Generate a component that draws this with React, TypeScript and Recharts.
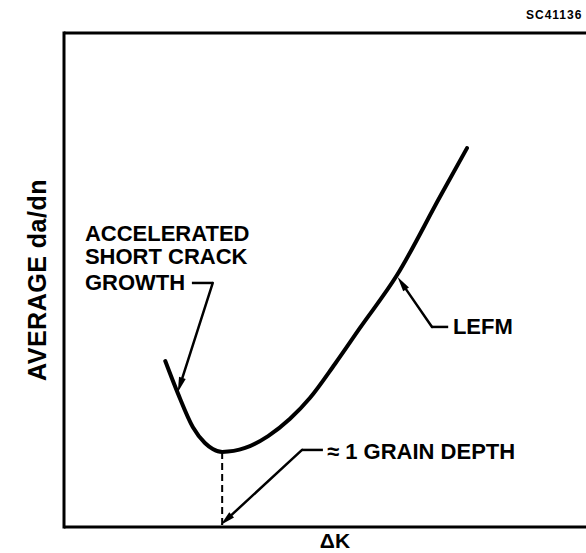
import { LineChart, Line, XAxis, YAxis, ReferenceLine, ReferenceDot } from "recharts";

// curve: average da/dn vs ΔK (arbitrary units, 0-100 both axes)
const deltaK = [19.4, 21.8, 24.7, 27.0, 28.5, 30.3, 34.7, 39.1, 43.3, 47.1, 51.9, 56.7, 63.8, 72.0, 77.2];
const dadn = [33.6, 27.1, 20.2, 17.0, 15.8, 15.2, 16.0, 18.4, 21.9, 26.1, 33.0, 40.3, 51.0, 66.8, 76.7];

const curveData = deltaK.map((k, i) => ({ dk: k, rate: dadn[i] }));

// grain depth marker (ΔK at the minimum)
const grainK = 30.3;
const grainRate = 15.2;

// leader lines: [start, end], arrow at end when it has one
const growthStub = [{ x: 24.5, y: 49.4 }, { x: 28.5, y: 49.4 }];
const growthArrow = [{ x: 28.5, y: 49.4 }, { x: 21.8, y: 27.3 }];
const grainStub = [{ x: 49.6, y: 15.6 }, { x: 45.6, y: 15.6 }];
const grainArrow = [{ x: 45.6, y: 15.6 }, { x: 30.0, y: 0.4 }];
const lefmStub = [{ x: 73.6, y: 40.5 }, { x: 70.5, y: 40.5 }];
const lefmArrow = [{ x: 70.5, y: 40.5 }, { x: 63.9, y: 50.6 }];

const labels = [
  { text: "ACCELERATED", x: 4.0, y: 59.5 },
  { text: "SHORT CRACK", x: 4.0, y: 54.7 },
  { text: "GROWTH", x: 4.0, y: 49.4 },
  { text: "≈ 1 GRAIN DEPTH", x: 50.4, y: 15.2 },
  { text: "LEFM", x: 74.5, y: 40.5 },
];

const FONT = "'Liberation Sans', Arial, Helvetica, sans-serif";

function ArrowLine(props: any) {
  const { x1, y1, x2, y2 } = props;
  const ang = Math.atan2(y2 - y1, x2 - x1);
  const len = 15;
  const half = 3.5;
  const bx = x2 - len * Math.cos(ang);
  const by = y2 - len * Math.sin(ang);
  const px = -Math.sin(ang) * half;
  const py = Math.cos(ang) * half;
  return (
    <g>
      <line x1={x1} y1={y1} x2={bx} y2={by} stroke="#000" strokeWidth={2.5} strokeLinecap="round" />
      <polygon points={`${x2},${y2} ${bx + px},${by + py} ${bx - px},${by - py}`} fill="#000" />
    </g>
  );
}

function textLabel(value: string, size: number, anchor = "start", rotate = 0, spacing = 0) {
  return (p: any) => {
    const vb = p.viewBox || {};
    const x = vb.x + (vb.width || 0) / 2;
    const y = vb.y + (vb.height || 0) / 2;
    return (
      <text
        x={x}
        y={y}
        fill="#000"
        fontFamily={FONT}
        fontWeight="bold"
        fontSize={size}
        textAnchor={anchor}
        dominantBaseline="central"
        letterSpacing={spacing}
        transform={rotate ? `rotate(${rotate} ${x} ${y})` : undefined}
      >
        {value}
      </text>
    );
  };
}

export default function App() {
  const axisStyle = { stroke: "#000", strokeWidth: 3, strokeLinecap: "square" as const };
  return (
    <div style={{ position: "absolute", left: 0, top: 0, background: "#fff" }}>
      <LineChart width={586} height={553} data={curveData} margin={{ top: 33, right: 0, bottom: 26, left: 0 }}>
        <XAxis dataKey="dk" type="number" domain={[0, 100]} tick={false} tickLine={false} axisLine={false} height={0} />
        <YAxis type="number" domain={[0, 100]} tick={false} tickLine={false} axisLine={axisStyle} width={64} />

        {/* box: top and bottom rules */}
        <ReferenceLine y={100} stroke="#000" strokeWidth={3} ifOverflow="visible" />
        <ReferenceLine y={0} stroke="#000" strokeWidth={3} ifOverflow="visible" />

        <ReferenceLine
          segment={[{ x: grainK, y: grainRate }, { x: grainK, y: 0 }]}
          stroke="#000"
          strokeWidth={2}
          strokeDasharray="7 4"
          ifOverflow="visible"
        />

        <Line
          dataKey="rate"
          type="monotone"
          stroke="#000"
          strokeWidth={4}
          strokeLinecap="round"
          dot={false}
          activeDot={false}
          isAnimationActive={false}
        />

        {[growthStub, grainStub, lefmStub].map((seg, i) => (
          <ReferenceLine key={"s" + i} segment={seg} stroke="#000" strokeWidth={2.5} ifOverflow="visible" />
        ))}
        {[growthArrow, grainArrow, lefmArrow].map((seg, i) => (
          <ReferenceLine key={"a" + i} segment={seg} shape={ArrowLine} ifOverflow="visible" />
        ))}

        {labels.map((l) => (
          <ReferenceDot key={l.text} x={l.x} y={l.y} r={0} fill="none" stroke="none" ifOverflow="visible" label={textLabel(l.text, 22)} />
        ))}

        <ReferenceDot x={51.9} y={-2.7} r={0} fill="none" stroke="none" ifOverflow="visible" label={textLabel("ΔK", 21, "middle")} />
        <ReferenceDot x={-5.2} y={50} r={0} fill="none" stroke="none" ifOverflow="visible" label={textLabel("AVERAGE da/dn", 25, "middle", -90, 0.5)} />
        <ReferenceDot x={88.5} y={103.6} r={0} fill="none" stroke="none" ifOverflow="visible" label={textLabel("SC41136", 12, "start", 0, 1)} />
      </LineChart>
    </div>
  );
}
